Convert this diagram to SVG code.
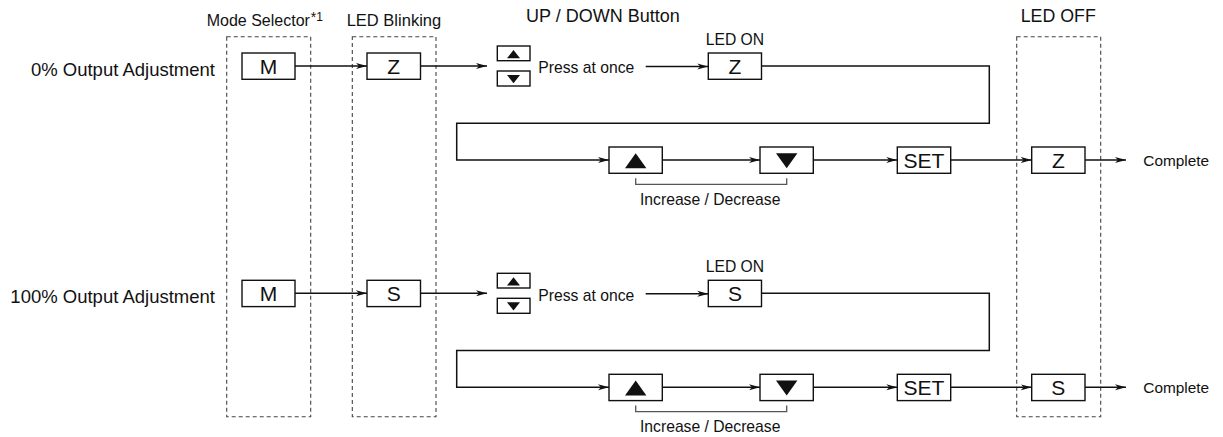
<svg xmlns="http://www.w3.org/2000/svg" width="1223" height="437" viewBox="0 0 1223 437">
<style>
text{font-family:"Liberation Sans",Arial,sans-serif;fill:#111}
.box{fill:#fff;stroke:#111;stroke-width:1.4}
.dash{fill:none;stroke:#444;stroke-width:1.1;stroke-dasharray:4 3}
.ln{fill:none;stroke:#111;stroke-width:1.5}
.br{fill:none;stroke:#555;stroke-width:1.3}
.key{font-size:21px;text-anchor:middle}
.lbl{font-size:15.7px}
.row{font-size:18.5px;text-anchor:end}
.tri{fill:#111}
</style>
<defs>
<marker id="arr" viewBox="0 0 11 7" refX="11" refY="3.5" markerWidth="11" markerHeight="7" markerUnits="userSpaceOnUse" orient="auto">
<path d="M0,0.5 L11,3.5 L0,6.5 L3,3.5 z" fill="#111"/>
</marker>
</defs>

<g id="headers">
<text x="206.7" y="26" font-size="16">Mode Selector<tspan font-size="14" dx="1" dy="-4">*</tspan><tspan font-size="12" dy="-1">1</tspan></text>
<text x="346.7" y="26" font-size="16.5">LED Blinking</text>
<text x="526" y="22" font-size="18">UP / DOWN Button</text>
<text x="1020.7" y="22" font-size="17.8">LED OFF</text>
</g>

<g id="groups">
<rect id="mode-selector-group" class="dash" x="226.7" y="36.7" width="84" height="380"/>
<rect id="led-blinking-group" class="dash" x="352.3" y="36.7" width="83.7" height="380"/>
<rect id="led-off-group" class="dash" x="1016.7" y="36.7" width="84" height="380"/>
</g>

<g id="connectors">
<g id="conn-row1">
<line class="ln" x1="295" y1="66" x2="367" y2="66" marker-end="url(#arr)"/>
<line class="ln" x1="420.5" y1="66" x2="487" y2="66" marker-end="url(#arr)"/>
<line class="ln" x1="645.7" y1="66.5" x2="708.3" y2="66.5" marker-end="url(#arr)"/>
<polyline class="ln" points="761.5,66 989.3,66 989.3,123.3 456.7,123.3 456.7,160 609,160" marker-end="url(#arr)"/>
<line class="ln" x1="662.3" y1="160" x2="760" y2="160" marker-end="url(#arr)"/>
<line class="ln" x1="813.3" y1="160" x2="897.3" y2="160" marker-end="url(#arr)"/>
<line class="ln" x1="950.7" y1="160" x2="1031.7" y2="160" marker-end="url(#arr)"/>
<line class="ln" x1="1085" y1="160" x2="1126" y2="160" marker-end="url(#arr)"/>
<polyline class="br" points="635.7,178.3 635.7,184.3 786.7,184.3 786.7,178.3"/>
</g>
<g id="conn-row2" transform="translate(0,227.3)">
<line class="ln" x1="295" y1="66" x2="367" y2="66" marker-end="url(#arr)"/>
<line class="ln" x1="420.5" y1="66" x2="487" y2="66" marker-end="url(#arr)"/>
<line class="ln" x1="645.7" y1="66.5" x2="708.3" y2="66.5" marker-end="url(#arr)"/>
<polyline class="ln" points="761.5,66 989.3,66 989.3,123.3 456.7,123.3 456.7,160 609,160" marker-end="url(#arr)"/>
<line class="ln" x1="662.3" y1="160" x2="760" y2="160" marker-end="url(#arr)"/>
<line class="ln" x1="813.3" y1="160" x2="897.3" y2="160" marker-end="url(#arr)"/>
<line class="ln" x1="950.7" y1="160" x2="1031.7" y2="160" marker-end="url(#arr)"/>
<line class="ln" x1="1085" y1="160" x2="1126" y2="160" marker-end="url(#arr)"/>
<polyline class="br" points="635.7,178.3 635.7,184.3 786.7,184.3 786.7,178.3"/>
</g>
</g>

<g id="row1">
<text id="row1-label" class="row" x="215" y="76">0% Output Adjustment</text>
<g id="r1-mode"><rect class="box" x="242" y="53" width="53" height="26.3"/><text class="key" x="268.5" y="73.6">M</text></g>
<g id="r1-blink"><rect class="box" x="367" y="53" width="53.5" height="26.3"/><text class="key" x="393.7" y="73.6">Z</text></g>
<g id="r1-updown">
<rect class="box" x="497.3" y="46" width="32.7" height="14.7"/><polygon class="tri" points="507,58.3 520,58.3 513.5,50"/>
<rect class="box" x="497.3" y="71" width="32.7" height="15"/><polygon class="tri" points="507,75 520,75 513.5,83.3"/>
<text class="lbl" x="538.3" y="73.3">Press at once</text>
</g>
<g id="r1-ledon"><text class="lbl" x="705.7" y="45">LED ON</text><rect class="box" x="708.3" y="53" width="53.2" height="26.3"/><text class="key" x="735" y="73.6">Z</text></g>
<g id="r1-up"><rect class="box" x="609" y="147" width="53.3" height="26.3"/><polygon class="tri" points="625,168.3 646.4,168.3 635.7,153.3"/></g>
<g id="r1-down"><rect class="box" x="760" y="147" width="53.3" height="26.3"/><polygon class="tri" points="776,153.3 797.4,153.3 786.7,168.3"/></g>
<text id="r1-incdec" class="lbl" x="640" y="205">Increase / Decrease</text>
<g id="r1-set"><rect class="box" x="897.3" y="147" width="53.4" height="26.3"/><text class="key" x="924" y="167.8">SET</text></g>
<g id="r1-off"><rect class="box" x="1031.7" y="147" width="53.3" height="26.3"/><text class="key" x="1058.3" y="167.8">Z</text></g>
<text id="r1-complete" x="1143.3" y="165.7" font-size="15.4">Complete</text>
</g>

<g id="row2" transform="translate(0,227.3)">
<text id="row2-label" class="row" x="215" y="76">100% Output Adjustment</text>
<g id="r2-mode"><rect class="box" x="242" y="53" width="53" height="26.3"/><text class="key" x="268.5" y="73.6">M</text></g>
<g id="r2-blink"><rect class="box" x="367" y="53" width="53.5" height="26.3"/><text class="key" x="393.7" y="73.6">S</text></g>
<g id="r2-updown">
<rect class="box" x="497.3" y="46" width="32.7" height="14.7"/><polygon class="tri" points="507,58.3 520,58.3 513.5,50"/>
<rect class="box" x="497.3" y="71" width="32.7" height="15"/><polygon class="tri" points="507,75 520,75 513.5,83.3"/>
<text class="lbl" x="538.3" y="73.3">Press at once</text>
</g>
<g id="r2-ledon"><text class="lbl" x="705.7" y="45">LED ON</text><rect class="box" x="708.3" y="53" width="53.2" height="26.3"/><text class="key" x="735" y="73.6">S</text></g>
<g id="r2-up"><rect class="box" x="609" y="147" width="53.3" height="26.3"/><polygon class="tri" points="625,168.3 646.4,168.3 635.7,153.3"/></g>
<g id="r2-down"><rect class="box" x="760" y="147" width="53.3" height="26.3"/><polygon class="tri" points="776,153.3 797.4,153.3 786.7,168.3"/></g>
<text id="r2-incdec" class="lbl" x="640" y="205">Increase / Decrease</text>
<g id="r2-set"><rect class="box" x="897.3" y="147" width="53.4" height="26.3"/><text class="key" x="924" y="167.8">SET</text></g>
<g id="r2-off"><rect class="box" x="1031.7" y="147" width="53.3" height="26.3"/><text class="key" x="1058.3" y="167.8">S</text></g>
<text id="r2-complete" x="1143.3" y="165.7" font-size="15.4">Complete</text>
</g>
</svg>
